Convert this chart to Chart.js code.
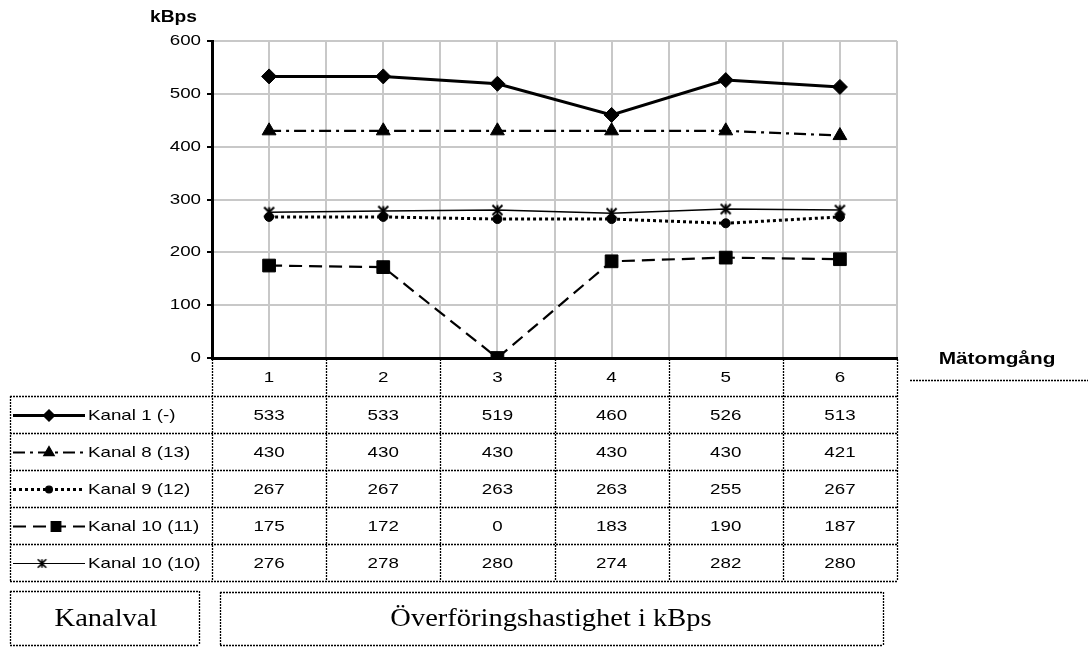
<!DOCTYPE html>
<html>
<head>
<meta charset="utf-8">
<script src="https://cdn.jsdelivr.net/npm/chart.js@4"></script>
<style>
  html, body { margin: 0; padding: 0; background: #fff; }
  canvas { display: block; }
</style>
</head>
<body>
<canvas id="chart" width="1088" height="648"></canvas>
<script>
const rounds = ['1', '2', '3', '4', '5', '6'];
const seriesNames = ['Kanal 1 (-)', 'Kanal 8 (13)', 'Kanal 9 (12)', 'Kanal 10 (11)', 'Kanal 10 (10)'];
const kanal1 = [533, 533, 519, 460, 526, 513];
const kanal8 = [430, 430, 430, 430, 430, 421];
const kanal9 = [267, 267, 263, 263, 255, 267];
const kanal10_11 = [175, 172, 0, 183, 190, 187];
const kanal10_10 = [276, 278, 280, 274, 282, 280];
const yTicks = [0, 100, 200, 300, 400, 500, 600];

const values = [kanal1, kanal8, kanal9, kanal10_11, kanal10_10];

// X-with-vertical-bar marker used for Kanal 10 (10)
function starMarker(size, lw) {
  const c = document.createElement('canvas');
  c.width = size; c.height = size;
  const g = c.getContext('2d');
  g.strokeStyle = '#000';
  g.lineWidth = lw;
  const p = lw / 2 + 0.5, q = size - p;
  g.beginPath();
  g.moveTo(p, p); g.lineTo(q, q);
  g.moveTo(q, p); g.lineTo(p, q);
  g.moveTo(size / 2, p); g.lineTo(size / 2, q);
  g.stroke();
  return c;
}
const starBig = starMarker(13, 2);
const starSmall = starMarker(11, 1.6);

const styles = [
  { dash: [], width: 3, point: 'rectRot', radius: 7.5 },
  { dash: [12, 5, 3, 5], width: 2.2, point: 'triangle', radius: 8 },
  { dash: [3, 3], width: 3, point: 'circle', radius: 4.5 },
  { dash: [13, 7], width: 2.2, point: 'rect', radius: 9 },
  { dash: [], width: 1.5, point: starBig, radius: 6 }
];

const datasets = values.map((vals, i) => ({
  label: seriesNames[i],
  data: vals.map((v, j) => ({ x: j + 1, y: v })),
  borderColor: '#000',
  backgroundColor: '#000',
  borderWidth: styles[i].width,
  borderDash: styles[i].dash,
  pointStyle: styles[i].point,
  pointRadius: styles[i].radius,
  pointBorderWidth: 1,
  pointBackgroundColor: '#000',
  pointBorderColor: '#000',
  tension: 0
}));

const ROW_TOP = 396, ROW_H = 37, TABLE_LEFT = 10;
const SANS = '"Liberation Sans", Arial, sans-serif';
const SERIF = '"Liberation Serif", "Times New Roman", serif';
const SX = 1.25; // source text is horizontally stretched

function line(ctx, x1, y1, x2, y2) {
  ctx.beginPath();
  ctx.moveTo(x1, y1);
  ctx.lineTo(x2, y2);
  ctx.stroke();
}

function text(ctx, s, x, y, align, sx) {
  ctx.save();
  ctx.translate(x, y);
  ctx.scale(sx || SX, 1);
  ctx.textAlign = align;
  ctx.textBaseline = 'middle';
  ctx.fillText(s, 0, 0);
  ctx.restore();
}

function box(ctx, x1, y1, x2, y2) {
  line(ctx, x1 + 0.5, y1, x1 + 0.5, y2);
  line(ctx, x2 + 0.5, y1, x2 + 0.5, y2);
  line(ctx, x1, y1 + 0.5, x2, y1 + 0.5);
  line(ctx, x1, y2 + 0.5, x2, y2 + 0.5);
}

const tablePlugin = {
  id: 'table',
  afterDraw(chart) {
    const ctx = chart.ctx;
    const xs = chart.scales.x;
    const ys = chart.scales.y;
    const area = chart.chartArea;
    const bounds = [];
    for (let k = 0; k <= rounds.length; k++) bounds.push(xs.getPixelForValue(k + 0.5));
    const bottom = ROW_TOP + ROW_H * values.length;

    ctx.save();
    ctx.fillStyle = '#000';
    ctx.strokeStyle = '#000';

    // tick labels
    ctx.font = '15px ' + SANS;
    ys.ticks.forEach(t => text(ctx, String(t.value), 201, ys.getPixelForValue(t.value), 'right'));
    xs.ticks.forEach(t => {
      if (Number.isInteger(t.value)) text(ctx, rounds[t.value - 1], xs.getPixelForValue(t.value), 378, 'center');
    });

    // table grid
    ctx.lineWidth = 1.3;
    ctx.setLineDash([2, 1]);
    bounds.forEach(bx => line(ctx, Math.round(bx) + 0.5, area.bottom + 1, Math.round(bx) + 0.5, bottom));
    line(ctx, TABLE_LEFT + 0.5, ROW_TOP, TABLE_LEFT + 0.5, bottom);
    for (let r = 0; r <= values.length; r++) {
      const y = ROW_TOP + r * ROW_H + 0.5;
      line(ctx, TABLE_LEFT, y, bounds[bounds.length - 1], y);
    }

    // values
    ctx.setLineDash([]);
    values.forEach((vals, i) => {
      const cy = ROW_TOP + i * ROW_H + ROW_H / 2 + 1;
      vals.forEach((v, j) => text(ctx, String(v), xs.getPixelForValue(j + 1), cy, 'center'));
    });

    // legend keys
    values.forEach((vals, i) => {
      const cy = ROW_TOP + i * ROW_H + ROW_H / 2 + 1;
      const st = styles[i];
      ctx.save();
      ctx.lineWidth = i === 4 ? 1 : st.width;
      ctx.setLineDash(st.dash);
      line(ctx, 13, cy, 85, cy);
      ctx.restore();
      const mx = i === 3 ? 56 : (i === 4 ? 42 : 49);
      Chart.helpers.drawPoint(ctx, {
        pointStyle: i === 4 ? starSmall : st.point,
        radius: st.radius * 0.75, rotation: 0, borderWidth: 1
      }, mx, cy);
      ctx.font = '15px ' + SANS;
      text(ctx, seriesNames[i], 88, cy, 'left');
    });

    // axis titles
    ctx.font = 'bold 16px ' + SANS;
    text(ctx, 'kBps', 150, 18, 'left', 1.2);
    text(ctx, 'Mätomgång', 997, 360, 'center', 1.3);
    ctx.lineWidth = 1.3;
    ctx.setLineDash([2, 1]);
    line(ctx, 910, 380.5, 1088, 380.5);

    // bottom boxes
    box(ctx, 10, 591, 199, 645);
    box(ctx, 220, 592, 883, 645);
    ctx.setLineDash([]);
    ctx.font = '25px ' + SERIF;
    text(ctx, 'Kanalval', 106, 619, 'center', 1.14);
    text(ctx, 'Överföringshastighet i kBps', 551, 619, 'center', 1.14);
    ctx.restore();
  }
};

new Chart(document.getElementById('chart'), {
  type: 'line',
  data: { datasets },
  options: {
    responsive: false,
    animation: false,
    layout: { padding: { left: 172, right: 191, top: 41, bottom: 252 } },
    plugins: { legend: { display: false }, tooltip: { enabled: false } },
    scales: {
      x: {
        type: 'linear',
        min: 0.5,
        max: rounds.length + 0.5,
        afterBuildTicks: (scale) => {
          const t = [];
          for (let v = 0.5; v <= rounds.length + 0.5; v += 0.5) t.push({ value: v });
          scale.ticks = t;
        },
        afterFit: (scale) => { scale.height = 38; },
        ticks: { display: false },
        grid: { color: '#c8c8c8', lineWidth: 2, drawTicks: false },
        border: { color: '#000', width: 3 }
      },
      y: {
        min: 0,
        max: 600,
        afterBuildTicks: (scale) => { scale.ticks = yTicks.map(v => ({ value: v })); },
        afterFit: (scale) => { scale.width = 40; },
        ticks: { display: false },
        grid: { color: '#c8c8c8', lineWidth: 2, tickLength: 5, tickColor: '#000', tickWidth: 2 },
        border: { color: '#000', width: 3 }
      }
    }
  },
  plugins: [tablePlugin]
});
</script>
</body>
</html>
